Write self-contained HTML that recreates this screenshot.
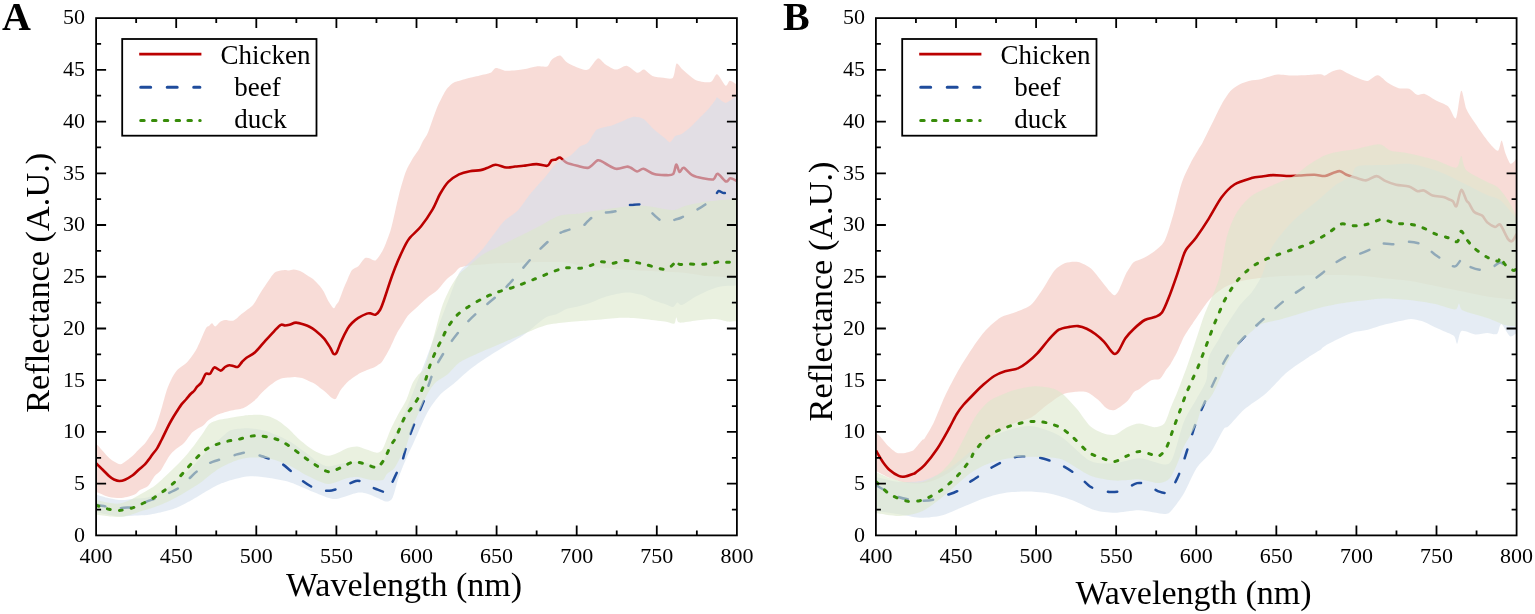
<!DOCTYPE html>
<html><head><meta charset="utf-8"><title>Reflectance spectra</title><style>html,body{margin:0;padding:0;background:#fff}svg{display:block}</style></head><body>
<svg width="1535" height="614" viewBox="0 0 1535 614" font-family="&quot;Liberation Serif&quot;, &quot;Times New Roman&quot;, serif">
<rect width="1535" height="614" fill="#fff"/>
<defs><clipPath id="clA"><rect x="96.1" y="18.1" width="640.8" height="517.3"/></clipPath><clipPath id="clB"><rect x="875.9" y="18.1" width="640.7" height="517.3"/></clipPath></defs><path d="M96.0 444.6C96.3 444.8 96.8 444.3 98.4 446.0C100.0 447.7 106.1 454.9 108.2 457.0C110.3 459.1 112.4 460.5 114.0 461.5C115.6 462.5 118.8 464.4 120.4 464.3C122.0 464.2 124.4 462.1 126.0 461.0C127.6 459.9 131.1 457.3 132.7 455.8C134.3 454.3 136.7 451.6 138.3 450.0C139.9 448.4 143.3 445.4 144.9 443.5C146.5 441.6 148.7 437.9 150.0 436.0C151.3 434.1 153.6 431.0 154.7 428.9C155.8 426.8 157.0 422.9 158.0 420.0C159.0 417.1 160.8 410.9 162.0 406.9C163.2 402.9 165.6 393.7 166.9 389.8C168.2 385.9 170.6 380.7 172.0 378.0C173.4 375.3 175.8 371.5 177.7 369.5C179.6 367.5 184.4 364.8 186.3 363.0C188.2 361.2 190.6 358.0 192.0 356.0C193.4 354.0 195.3 351.6 197.1 348.0C198.9 344.4 204.1 331.6 205.7 328.7C207.3 325.8 208.1 326.7 209.0 326.0C209.9 325.3 211.3 323.2 212.1 323.3C212.9 323.4 214.2 326.7 215.3 326.5C216.4 326.3 218.7 322.9 220.0 322.0C221.3 321.1 223.2 320.2 225.0 320.0C226.8 319.8 231.3 321.4 233.6 320.5C235.9 319.6 239.6 315.7 242.2 313.6C244.8 311.5 250.9 307.2 253.0 305.0C255.1 302.8 256.6 299.3 258.0 297.0C259.4 294.7 262.2 290.1 263.7 287.8C265.2 285.5 267.6 282.0 269.0 280.0C270.4 278.0 272.9 274.1 274.5 272.8C276.1 271.5 279.5 271.0 280.9 270.6C282.3 270.2 284.1 270.0 285.2 270.0C286.3 270.0 287.9 270.6 289.0 270.5C290.1 270.4 292.3 269.4 293.8 269.5C295.3 269.6 298.3 270.3 300.0 271.0C301.7 271.7 305.0 273.8 306.7 274.9C308.4 276.0 311.3 277.6 313.0 279.0C314.7 280.4 318.1 284.0 319.6 285.7C321.1 287.4 322.9 290.0 324.0 292.0C325.1 294.0 326.9 298.5 328.2 300.7C329.5 302.9 332.6 307.6 333.6 308.2C334.6 308.8 335.3 306.0 336.0 305.0C336.7 304.0 338.1 302.7 339.0 300.7C339.9 298.7 341.9 292.9 343.0 290.0C344.1 287.1 346.4 281.9 347.6 279.2C348.8 276.5 350.6 271.7 352.0 270.0C353.4 268.3 356.6 267.9 358.3 266.3C360.0 264.7 363.2 259.3 364.8 258.3C366.4 257.3 368.6 258.2 370.0 258.5C371.4 258.8 373.9 261.3 375.5 260.4C377.1 259.5 380.6 254.1 382.0 251.8C383.4 249.5 384.9 245.9 386.0 243.0C387.1 240.1 389.4 234.4 390.6 230.3C391.8 226.2 393.9 216.9 395.0 212.0C396.1 207.1 397.8 199.1 399.2 193.8C400.6 188.5 403.9 176.9 405.6 172.3C407.3 167.7 410.4 162.4 412.1 159.4C413.8 156.4 417.0 152.5 418.5 150.0C420.0 147.5 421.7 143.4 423.0 141.0C424.3 138.6 426.4 136.4 428.2 132.0C430.0 127.6 434.5 113.8 436.8 108.3C439.1 102.8 443.6 94.1 445.4 91.1C447.2 88.1 448.9 86.6 450.0 85.5C451.1 84.4 452.0 83.3 454.0 82.5C456.0 81.7 461.3 80.2 464.7 79.3C468.1 78.4 476.4 76.5 479.8 75.6C483.2 74.7 488.4 73.8 490.5 72.8C492.6 71.8 493.8 68.2 495.9 67.9C498.0 67.6 502.6 70.5 506.3 70.7C510.0 70.9 519.5 69.8 523.5 69.2C527.5 68.6 533.2 66.8 536.4 66.4C539.6 66.0 545.2 67.3 547.2 66.4C549.2 65.5 549.8 61.3 551.5 59.9C553.2 58.5 558.0 55.3 560.0 55.6C562.0 55.9 564.2 60.5 566.5 62.1C568.8 63.7 574.4 66.5 577.3 67.5C580.2 68.5 585.3 70.8 588.0 69.6C590.7 68.4 595.4 59.1 597.7 58.4C600.0 57.7 602.8 62.7 605.2 64.2C607.6 65.7 613.1 69.4 616.0 69.6C618.9 69.8 623.8 65.3 626.7 65.7C629.6 66.1 635.2 72.3 637.5 72.8C639.8 73.3 641.9 69.2 643.9 69.6C645.9 70.0 649.9 74.9 652.5 76.0C655.1 77.1 660.6 77.6 663.3 77.8C666.0 78.0 671.1 79.7 672.9 77.8C674.7 75.9 675.3 64.7 676.6 63.6C677.9 62.5 680.1 67.4 682.6 69.6C685.1 71.8 691.8 78.2 695.5 79.9C699.2 81.6 707.7 82.8 710.6 82.1C713.5 81.4 715.0 73.8 717.0 74.3C719.0 74.8 723.9 84.8 725.6 85.7C727.3 86.6 728.4 80.9 729.9 80.8C731.4 80.7 736.0 84.2 736.9 84.7 L736.9 277.0C735.7 277.0 732.1 277.2 728.1 277.1C724.1 277.0 712.6 276.7 707.0 276.1C701.4 275.5 691.4 273.4 685.8 272.9C680.2 272.4 670.6 272.3 665.0 272.0C659.4 271.7 649.2 271.1 643.5 270.8C637.8 270.5 627.6 269.9 622.0 269.5C616.4 269.1 606.8 268.1 601.2 267.6C595.6 267.1 584.2 266.1 580.0 265.5C575.8 264.9 573.1 263.5 570.0 263.0C566.9 262.5 560.9 262.1 557.0 262.0C553.1 261.9 545.2 261.9 541.0 262.0C536.8 262.1 529.5 262.3 525.2 262.4C520.9 262.5 513.2 262.9 509.0 263.0C504.8 263.1 497.0 263.3 493.5 263.5C490.0 263.7 486.0 264.2 482.9 264.5C479.8 264.8 473.1 265.1 470.0 265.5C466.9 265.9 461.6 266.7 459.6 267.7C457.6 268.7 456.5 271.2 454.7 272.8C452.9 274.4 448.3 277.7 446.0 280.0C443.7 282.3 440.0 287.6 437.5 290.0C435.0 292.4 429.7 295.7 427.0 298.0C424.3 300.3 419.6 304.8 417.0 307.2C414.4 309.6 409.8 313.4 407.8 315.8C405.8 318.2 403.4 322.7 402.0 325.0C400.6 327.3 398.6 329.9 397.0 333.0C395.4 336.1 391.9 344.2 390.0 348.0C388.1 351.8 384.0 359.0 382.4 361.3C380.8 363.6 379.2 364.1 378.0 365.0C376.8 365.9 374.8 367.1 373.3 367.8C371.8 368.5 368.7 369.3 367.0 370.0C365.3 370.7 362.0 372.1 360.3 373.0C358.6 373.9 355.7 375.8 354.0 377.0C352.3 378.2 349.1 380.5 347.3 382.2C345.5 383.9 341.9 388.3 340.7 390.0C339.5 391.7 338.7 393.8 338.0 395.0C337.3 396.2 336.4 398.7 335.5 399.1C334.6 399.5 332.9 398.7 331.6 397.8C330.3 396.9 327.4 393.7 326.0 392.5C324.6 391.3 322.7 389.8 321.2 388.7C319.7 387.6 316.7 385.1 315.0 384.0C313.3 382.9 309.9 381.6 308.2 380.8C306.5 380.0 303.7 378.5 302.0 378.0C300.3 377.5 296.8 377.0 295.1 376.9C293.4 376.8 291.2 377.3 289.5 377.5C287.8 377.7 283.9 377.7 282.1 378.2C280.3 378.7 277.7 379.9 276.0 381.0C274.3 382.1 271.0 384.6 269.1 386.1C267.2 387.6 263.7 390.8 262.0 392.5C260.3 394.2 257.7 397.6 256.1 399.1C254.5 400.6 251.7 402.8 250.0 404.0C248.3 405.2 245.7 407.3 243.0 408.2C240.3 409.1 233.6 409.8 230.0 410.8C226.4 411.8 218.9 414.1 216.0 415.4C213.1 416.7 210.1 419.0 208.4 420.3C206.7 421.6 205.6 423.6 203.5 425.2C201.4 426.8 195.3 429.6 192.7 432.0C190.1 434.4 186.2 440.7 184.0 443.0C181.8 445.3 178.0 447.3 176.0 449.0C174.0 450.7 171.3 453.2 169.3 456.0C167.3 458.8 163.0 467.3 161.1 470.0C159.2 472.7 156.4 473.9 154.7 476.0C153.0 478.1 150.1 484.1 148.1 486.0C146.1 487.9 141.7 488.9 140.0 490.0C138.3 491.1 136.8 493.4 135.1 494.3C133.4 495.2 129.1 496.5 127.0 497.0C124.9 497.5 121.8 498.0 119.4 498.0C117.0 498.0 112.1 497.7 109.0 496.9C105.9 496.1 97.7 492.4 96.0 491.7 Z" fill="rgb(243,197,188)" fill-opacity="0.6" stroke="none" clip-path="url(#clA)"/>
<path d="M96.0 463.1C97.0 464.1 100.5 467.6 102.5 469.5C104.5 471.4 107.3 474.5 109.0 476.0C110.7 477.5 112.4 478.8 114.0 479.5C115.6 480.2 117.8 481.0 119.4 481.0C121.1 481.0 123.0 480.6 125.0 479.7C127.0 478.8 130.6 476.8 132.7 475.3C134.8 473.8 137.2 471.1 139.0 469.5C140.8 467.9 143.5 465.7 144.9 464.3C146.3 462.9 147.0 461.8 148.1 460.4C149.2 459.0 150.7 456.8 152.0 455.0C153.3 453.2 155.7 450.6 157.1 448.4C158.5 446.1 160.0 442.9 161.5 440.0C163.0 437.1 165.5 431.8 166.9 428.9C168.3 426.0 169.5 423.6 171.0 421.0C172.5 418.4 175.0 414.3 176.6 411.8C178.2 409.3 180.1 406.2 181.5 404.4C182.9 402.6 184.6 401.1 186.0 399.5C187.4 397.9 189.4 395.3 190.6 394.0C191.8 392.7 193.0 392.1 194.0 391.0C195.0 389.9 196.0 388.0 197.1 386.7C198.2 385.4 200.1 384.3 201.4 382.4C202.7 380.5 204.4 375.1 205.7 373.8C207.0 372.5 208.7 374.8 210.0 373.8C211.3 372.8 212.7 367.9 214.3 367.4C215.9 366.9 219.1 370.7 220.7 370.6C222.3 370.5 223.7 367.8 225.0 367.0C226.3 366.2 228.0 365.3 229.3 365.2C230.6 365.1 232.2 365.7 233.5 366.0C234.8 366.3 236.6 367.5 237.9 366.9C239.2 366.3 240.7 363.4 242.0 362.0C243.3 360.6 244.5 359.2 246.5 357.7C248.5 356.2 252.5 354.6 255.1 352.3C257.7 350.0 260.8 345.8 263.7 342.6C266.6 339.4 271.9 333.5 274.5 330.8C277.1 328.1 279.3 325.6 280.9 324.8C282.5 324.0 283.7 325.5 285.0 325.5C286.3 325.5 287.9 325.2 289.5 324.8C291.1 324.4 293.7 322.6 296.0 322.6C298.3 322.6 302.5 324.1 304.6 324.8C306.7 325.5 308.4 326.2 310.0 327.0C311.6 327.8 313.2 328.7 315.3 330.4C317.4 332.1 321.6 335.7 323.9 338.3C326.2 340.9 328.9 345.6 330.4 348.0C331.9 350.4 332.6 353.4 333.6 354.0C334.6 354.6 335.7 354.2 336.8 352.3C337.9 350.4 339.5 345.1 341.1 341.6C342.7 338.1 346.0 331.5 347.6 328.7C349.2 325.9 350.4 324.6 352.0 323.0C353.6 321.4 356.1 319.3 358.3 317.9C360.5 316.5 365.0 314.3 366.9 313.6C368.8 312.9 369.7 313.3 371.0 313.5C372.3 313.7 374.1 315.2 375.5 314.7C376.9 314.2 378.7 312.2 380.0 310.0C381.3 307.8 382.6 304.1 384.0 300.0C385.4 295.9 388.0 287.8 389.6 283.0C391.2 278.2 393.2 272.6 395.0 268.0C396.8 263.4 399.8 256.4 401.9 252.0C404.0 247.6 406.2 242.5 409.1 238.7C412.0 234.9 417.4 230.9 420.9 226.5C424.4 222.1 429.7 214.2 432.6 209.3C435.5 204.4 437.6 198.1 440.0 194.0C442.4 189.9 445.4 184.8 448.3 181.9C451.2 179.0 455.8 176.0 459.0 174.4C462.2 172.8 466.6 171.8 469.8 171.2C473.0 170.6 477.9 170.6 480.5 170.1C483.1 169.6 484.7 168.8 487.0 168.0C489.3 167.2 492.7 164.8 495.6 164.7C498.5 164.6 503.4 167.2 506.3 167.5C509.2 167.8 512.4 166.8 515.0 166.5C517.6 166.2 520.3 166.2 523.5 165.8C526.7 165.4 532.8 164.1 536.4 164.1C540.0 164.1 544.9 166.4 547.2 165.8C549.5 165.2 550.2 161.3 551.5 160.4C552.8 159.5 554.7 159.9 556.0 159.5C557.3 159.1 558.4 157.1 560.0 157.6C561.6 158.1 563.9 161.4 566.5 162.6C569.1 163.8 574.0 165.0 577.3 165.8C580.6 166.6 585.4 168.5 588.5 167.7C591.6 166.9 595.5 160.9 598.0 160.3C600.5 159.7 602.7 162.2 605.4 163.5C608.1 164.8 612.8 168.3 616.0 168.8C619.2 169.3 624.4 166.9 626.6 166.7C628.8 166.5 629.2 167.0 630.8 167.7C632.4 168.4 635.2 171.3 637.1 171.5C639.0 171.7 641.0 168.4 643.5 168.8C646.0 169.2 650.9 173.2 654.1 174.1C657.3 175.0 661.9 175.1 664.7 175.1C667.6 175.1 671.4 175.7 673.1 174.1C674.8 172.5 675.3 164.9 676.3 164.6C677.3 164.3 678.4 171.5 679.5 172.0C680.6 172.5 681.8 167.2 683.7 167.7C685.6 168.2 689.3 173.5 692.2 175.1C695.1 176.7 699.6 177.7 702.8 178.3C706.0 178.9 711.1 180.1 713.3 179.4C715.5 178.7 715.7 173.4 717.6 173.7C719.5 174.0 724.1 180.8 726.0 181.5C727.9 182.2 728.7 178.4 730.3 178.3C731.9 178.2 735.9 180.6 736.9 181.0" fill="none" stroke="#bb0000" stroke-width="2.6" stroke-linejoin="round" clip-path="url(#clA)"/>
<path d="M96.0 494.5C97.7 495.0 105.5 497.5 109.0 498.2C112.5 498.9 118.5 500.1 122.0 500.1C125.5 500.1 131.6 498.9 135.0 498.5C138.4 498.1 143.7 498.3 147.3 497.4C150.9 496.5 158.1 493.6 162.0 491.5C165.9 489.4 172.7 484.4 176.6 481.3C180.5 478.2 187.4 472.0 191.3 468.1C195.2 464.2 202.1 455.9 205.9 452.0C209.7 448.1 216.8 441.7 220.0 438.8C223.2 435.9 226.9 431.8 230.0 430.4C233.1 429.0 239.5 428.6 243.0 428.4C246.5 428.2 252.6 428.5 256.1 429.0C259.6 429.5 265.1 430.6 269.5 432.2C273.9 433.8 283.9 438.0 289.1 441.0C294.3 444.0 304.7 451.8 308.6 454.7C312.5 457.6 315.8 460.9 318.4 462.5C321.0 464.1 325.2 466.2 328.1 466.4C331.0 466.6 336.1 464.7 340.0 464.0C343.9 463.3 353.8 461.6 357.4 461.5C361.0 461.4 364.4 462.4 367.0 463.0C369.6 463.6 374.9 466.1 377.0 466.0C379.1 465.9 381.3 464.8 383.0 462.0C384.7 459.2 388.0 449.5 390.0 445.0C392.0 440.5 395.3 434.0 398.0 428.0C400.7 422.0 406.4 408.8 410.0 400.0C413.6 391.2 421.0 372.4 425.0 362.0C429.0 351.6 436.7 330.8 440.0 322.0C443.3 313.2 447.4 302.7 450.0 296.0C452.6 289.3 456.9 276.5 459.6 272.0C462.3 267.5 466.9 265.1 470.0 262.0C473.1 258.9 479.7 252.4 482.9 248.7C486.1 245.0 491.2 237.7 494.0 234.0C496.8 230.3 500.8 224.4 504.0 221.2C507.2 218.0 514.7 213.7 518.3 210.0C521.9 206.3 527.3 197.6 531.0 193.1C534.7 188.6 542.4 180.1 545.8 176.2C549.2 172.3 553.0 166.3 556.4 163.5C559.8 160.7 568.1 157.3 571.2 155.0C574.3 152.7 577.7 148.3 580.0 146.6C582.3 144.9 585.9 144.6 588.2 142.3C590.5 140.0 593.8 131.9 596.9 129.6C600.0 127.3 608.3 126.5 611.7 125.4C615.1 124.3 619.5 122.3 622.3 121.2C625.1 120.1 630.1 117.2 632.9 116.9C635.7 116.6 640.7 117.3 643.5 119.0C646.3 120.7 651.3 127.1 654.1 129.6C656.9 132.1 662.6 136.4 664.7 138.1C666.8 139.8 668.6 142.6 670.0 142.3C671.4 142.0 673.7 137.1 675.2 136.0C676.7 134.9 679.6 135.0 681.6 133.9C683.6 132.8 687.7 129.5 690.0 127.5C692.3 125.5 696.2 121.3 698.5 119.0C700.8 116.7 704.7 113.1 707.0 110.6C709.3 108.1 714.1 101.7 715.4 100.0C716.7 98.3 715.6 97.2 717.0 97.6C718.4 98.0 723.3 102.9 725.6 102.9C727.9 102.9 732.7 98.4 734.2 97.6C735.7 96.8 736.5 97.1 736.9 97.0 L736.9 285.6C734.3 285.8 722.7 285.8 717.3 287.2C711.9 288.6 701.1 293.8 696.4 296.2C691.7 298.6 684.5 304.2 682.0 305.0C679.5 305.8 678.6 302.2 677.4 302.5C676.2 302.8 674.7 306.8 673.0 307.0C671.3 307.2 667.4 304.9 664.7 304.0C662.0 303.1 655.3 301.1 652.5 300.0C649.7 298.9 646.8 296.5 643.5 295.5C640.2 294.5 632.2 292.6 628.0 292.5C623.8 292.4 615.6 294.2 612.0 295.0C608.4 295.8 604.1 297.2 601.2 298.3C598.3 299.4 592.8 302.0 590.0 303.0C587.2 304.0 583.1 305.2 580.0 306.0C576.9 306.8 569.6 307.9 566.5 309.0C563.4 310.1 559.9 312.8 557.0 314.0C554.1 315.2 549.5 315.2 545.0 318.0C540.5 320.8 529.2 331.1 523.5 335.1C517.8 339.1 507.0 344.9 502.0 348.0C497.0 351.1 490.3 355.1 486.0 358.0C481.7 360.9 474.1 366.1 469.8 369.5C465.5 372.9 457.9 380.2 454.0 383.5C450.1 386.8 444.1 390.3 440.5 394.3C436.9 398.3 430.6 406.7 427.0 413.2C423.4 419.7 416.3 436.9 413.5 443.0C410.7 449.1 408.3 453.9 406.3 458.6C404.3 463.3 400.3 472.9 398.5 478.1C396.7 483.3 394.2 494.6 392.6 497.7C391.0 500.8 388.8 501.6 386.7 501.6C384.6 501.6 379.6 498.7 377.0 497.7C374.4 496.7 369.8 494.5 367.2 493.8C364.6 493.1 361.3 492.1 357.4 492.8C353.5 493.5 341.8 498.0 337.9 498.7C334.0 499.4 332.0 498.9 328.1 497.7C324.2 496.5 313.8 492.0 308.6 489.9C303.4 487.8 294.3 483.6 289.1 482.0C283.9 480.4 274.7 478.9 269.5 478.1C264.3 477.3 254.6 476.1 250.0 476.2C245.4 476.3 239.0 478.0 235.0 479.0C231.0 480.0 223.9 482.3 220.0 484.0C216.1 485.7 209.7 489.3 205.9 491.5C202.1 493.7 195.2 498.1 191.3 500.3C187.4 502.5 180.5 506.1 176.6 507.7C172.7 509.3 165.9 511.0 162.0 512.0C158.1 513.0 150.9 514.5 147.3 515.0C143.7 515.5 138.4 515.3 135.0 515.5C131.6 515.7 125.3 516.6 122.0 516.5C118.7 516.4 113.5 515.6 110.0 515.0C106.5 514.4 97.9 512.4 96.0 512.0 Z" fill="rgb(212,223,237)" fill-opacity="0.6" stroke="none" clip-path="url(#clA)"/>
<path d="M96.0 504.7C97.2 504.9 101.7 505.6 103.8 506.0C105.9 506.4 107.9 507.1 110.0 507.5C112.1 507.9 116.0 508.9 117.8 509.0C119.6 509.1 119.8 508.2 122.0 507.9C124.2 507.6 129.8 507.6 132.5 507.3C135.2 507.0 137.8 506.5 139.7 505.7C141.6 504.9 143.3 503.1 145.5 502.1C147.7 501.1 152.2 499.7 154.6 498.8C157.0 497.9 159.4 496.8 161.5 495.9C163.6 495.0 166.4 494.1 168.9 493.0C171.4 491.9 175.8 489.9 178.0 488.4C180.2 486.9 181.5 484.4 183.3 482.8C185.1 481.2 187.9 479.6 189.8 478.0C191.7 476.4 193.7 474.0 196.0 472.1C198.3 470.2 202.2 467.0 205.1 465.3C207.9 463.6 211.7 462.1 215.0 461.0C218.3 459.9 224.0 458.6 227.0 457.7C230.0 456.8 232.4 455.8 235.0 455.0C237.6 454.2 241.8 452.8 244.4 452.6C247.0 452.5 249.7 453.6 252.0 454.0C254.3 454.4 257.0 454.8 259.7 455.5C262.4 456.2 266.7 457.8 270.0 459.0C273.3 460.2 278.2 461.6 281.5 463.5C284.8 465.4 288.7 469.3 292.0 472.0C295.3 474.7 300.1 479.1 303.4 481.5C306.7 483.9 311.5 486.9 314.3 488.3C317.1 489.7 319.4 490.2 322.0 490.5C324.6 490.8 328.8 490.9 331.8 490.4C334.8 489.9 338.4 488.4 342.0 487.0C345.6 485.6 352.8 481.8 355.8 481.0C358.8 480.2 360.0 481.2 362.0 482.0C364.0 482.8 366.8 484.9 368.9 486.0C371.0 487.1 373.7 488.1 376.0 489.0C378.3 489.9 382.3 491.7 384.2 491.9C386.1 492.1 387.3 491.7 388.5 490.4C389.7 489.1 390.7 485.8 392.0 483.0C393.3 480.2 395.7 475.0 397.2 471.9C398.7 468.8 400.4 466.7 402.0 462.0C403.6 457.3 406.0 446.9 408.1 440.5C410.2 434.1 413.8 425.1 416.2 419.0C418.6 412.9 422.4 404.9 424.3 399.7C426.2 394.4 427.3 388.8 429.0 384.0C430.7 379.2 432.5 373.1 435.4 367.4C438.3 361.7 444.1 352.0 448.3 345.9C452.5 339.8 458.7 331.7 463.3 326.5C467.9 321.3 473.5 315.9 479.0 311.0C484.5 306.1 495.2 297.7 499.8 293.5C504.4 289.3 507.0 286.3 510.0 283.0C513.0 279.7 516.1 275.9 520.0 271.5C523.9 267.1 530.8 258.7 535.8 253.5C540.8 248.3 549.2 240.2 553.6 236.8C558.0 233.4 561.8 232.3 565.0 231.0C568.2 229.7 572.5 228.9 575.1 228.2C577.7 227.5 580.5 227.6 582.4 226.5C584.3 225.4 586.1 222.7 588.0 221.0C589.9 219.3 592.8 216.5 594.8 215.3C596.8 214.1 598.0 213.8 601.2 213.2C604.4 212.6 612.5 212.2 616.0 211.1C619.5 210.0 622.0 206.7 624.4 205.8C626.8 204.9 629.7 205.2 632.0 205.0C634.3 204.8 637.6 204.2 639.6 204.5C641.6 204.8 643.0 205.0 645.6 206.9C648.2 208.8 653.9 215.0 656.8 217.4C659.7 219.8 661.9 222.5 664.7 222.8C667.5 223.1 672.7 220.4 675.2 219.6C677.7 218.8 678.4 218.9 681.6 217.5C684.8 216.1 692.9 211.9 696.4 210.0C699.9 208.1 702.0 207.0 704.9 204.8C707.8 202.6 713.3 197.3 715.4 195.2C717.5 193.1 717.3 191.3 718.6 191.0C719.9 190.7 722.2 193.0 723.9 193.1C725.6 193.2 728.0 191.9 730.0 191.5C732.0 191.1 735.9 190.7 736.9 190.5" fill="none" stroke="#1f4c9c" stroke-width="2.5" stroke-linecap="round" stroke-dasharray="9.5 16.1" stroke-linejoin="round" clip-path="url(#clA)"/>
<path d="M96.0 500.0C97.9 500.4 106.8 502.5 110.0 503.0C113.2 503.5 117.3 503.9 120.0 503.5C122.7 503.1 127.3 501.2 130.0 500.0C132.7 498.8 136.7 496.4 140.0 494.5C143.3 492.6 150.8 488.6 154.7 485.7C158.6 482.8 165.4 476.2 169.3 472.5C173.2 468.8 180.5 461.7 184.0 457.8C187.5 453.9 193.2 446.5 195.7 443.2C198.2 439.9 201.2 435.6 203.0 433.0C204.8 430.4 207.5 425.5 209.5 423.8C211.5 422.1 215.7 420.7 218.0 420.0C220.3 419.3 224.7 418.8 227.0 418.4C229.3 418.0 232.1 417.4 235.0 417.0C237.9 416.6 245.5 415.4 248.8 415.1C252.1 414.8 257.0 414.5 259.8 414.7C262.6 414.9 266.9 415.7 269.5 416.6C272.1 417.5 276.7 419.8 279.3 421.5C281.9 423.2 286.5 427.0 289.1 429.3C291.7 431.6 296.2 436.8 298.8 439.1C301.4 441.4 306.0 445.1 308.6 446.9C311.2 448.7 315.8 451.5 318.4 452.7C321.0 453.9 325.5 455.7 328.1 455.7C330.7 455.7 335.3 453.7 337.9 452.7C340.5 451.7 345.1 448.7 347.7 447.9C350.3 447.1 354.8 446.2 357.4 446.5C360.0 446.8 364.6 449.0 367.2 449.8C369.8 450.6 374.9 452.8 377.0 452.7C379.1 452.6 381.0 451.9 382.8 448.8C384.6 445.7 388.6 434.0 390.7 429.3C392.8 424.6 396.4 417.6 398.5 413.7C400.6 409.8 404.4 404.0 406.3 400.0C408.2 396.0 410.8 386.8 412.4 383.5C414.0 380.2 416.4 377.1 418.0 375.0C419.6 372.9 422.7 372.2 424.7 367.4C426.7 362.6 430.8 347.2 433.1 339.1C435.4 331.0 439.6 313.9 441.9 307.0C444.2 300.1 448.4 291.3 450.7 287.0C453.0 282.7 456.5 277.3 458.9 274.5C461.3 271.7 465.5 268.7 468.7 266.0C471.9 263.3 479.0 257.0 482.9 254.5C486.8 252.0 493.8 249.1 498.0 247.0C502.2 244.9 510.4 240.6 514.7 238.5C519.0 236.4 526.4 232.8 530.0 231.0C533.6 229.2 538.0 226.9 541.6 225.0C545.2 223.1 553.6 217.9 557.0 216.5C560.4 215.1 563.9 214.9 567.0 214.5C570.1 214.1 576.9 213.9 580.0 213.5C583.1 213.1 587.2 212.0 590.0 211.5C592.8 211.0 596.9 210.6 601.2 210.0C605.5 209.4 616.7 207.5 622.3 206.9C627.9 206.3 637.8 205.5 643.5 205.8C649.2 206.1 660.5 208.4 664.7 209.0C668.9 209.6 672.4 210.4 675.2 210.0C678.0 209.6 681.6 206.9 685.8 205.8C690.0 204.7 701.4 202.4 707.0 201.6C712.6 200.8 724.1 199.8 728.1 199.5C732.1 199.2 735.7 199.5 736.9 199.5 L736.9 321.0C735.7 321.1 731.0 321.9 728.1 321.6C725.2 321.3 719.6 319.1 715.4 319.0C711.2 318.9 701.2 320.0 696.4 320.5C691.6 321.0 682.2 323.0 679.5 322.6C676.8 322.2 677.0 317.3 676.3 317.4C675.6 317.5 675.7 323.1 674.2 323.7C672.7 324.3 668.8 322.2 664.7 321.6C660.6 321.0 649.2 319.5 643.5 319.0C637.8 318.5 627.9 317.7 622.3 317.8C616.7 317.9 605.8 319.1 601.2 319.5C596.6 319.9 592.6 320.1 588.0 320.5C583.4 320.9 572.2 321.5 566.5 322.2C560.8 322.9 551.5 323.5 545.0 325.4C538.5 327.3 524.3 333.6 518.0 336.2C511.7 338.8 503.0 342.7 497.5 345.0C492.0 347.3 482.1 351.4 477.0 353.7C471.9 356.0 463.3 359.8 459.4 362.5C455.5 365.2 450.8 371.6 447.7 374.2C444.6 376.8 438.6 379.5 436.0 382.0C433.4 384.5 430.1 389.3 428.0 393.0C425.9 396.7 422.1 405.3 420.0 410.0C417.9 414.7 414.0 422.7 412.0 428.0C410.0 433.3 406.6 446.0 405.0 450.0C403.4 454.0 401.4 455.6 400.0 458.0C398.6 460.4 396.3 465.8 394.5 468.0C392.7 470.2 388.3 472.6 386.7 474.2C385.1 475.8 384.9 479.3 382.8 480.1C380.7 480.9 374.2 480.5 371.1 480.1C368.0 479.7 362.5 477.5 359.4 477.2C356.3 476.9 351.9 477.2 347.7 478.1C343.5 479.0 333.3 484.3 328.1 484.0C322.9 483.7 313.8 478.7 308.6 476.2C303.4 473.7 294.3 467.7 289.1 465.4C283.9 463.1 274.7 459.6 269.5 458.6C264.3 457.6 254.6 457.3 250.0 457.6C245.4 457.9 239.0 459.6 235.0 461.0C231.0 462.4 223.3 466.1 220.0 468.0C216.7 469.9 212.9 472.9 210.0 475.0C207.1 477.1 202.1 481.6 198.6 484.0C195.1 486.4 187.9 490.7 184.0 493.0C180.1 495.3 173.2 499.1 169.3 501.0C165.4 502.9 158.6 505.6 154.7 507.0C150.8 508.4 143.3 510.4 140.0 511.5C136.7 512.6 132.7 514.3 130.0 515.0C127.3 515.7 122.7 516.8 120.0 517.0C117.3 517.2 113.2 516.8 110.0 516.5C106.8 516.2 97.9 514.8 96.0 514.5 Z" fill="rgb(220,231,203)" fill-opacity="0.6" stroke="none" clip-path="url(#clA)"/>
<path d="M96.0 505.3C97.0 505.6 101.0 506.9 103.0 507.5C105.0 508.1 106.8 508.8 109.0 509.2C111.2 509.6 115.7 510.4 117.8 510.5C119.9 510.6 120.8 510.4 123.0 510.0C125.2 509.6 129.7 508.8 132.5 507.9C135.3 507.0 138.5 505.5 141.6 504.0C144.7 502.5 150.0 500.1 153.3 498.2C156.6 496.2 160.6 493.3 163.7 491.0C166.8 488.7 171.0 485.5 174.1 482.6C177.2 479.7 181.2 475.1 184.5 471.5C187.8 467.9 192.9 461.7 196.0 458.5C199.1 455.3 202.2 452.0 205.1 450.0C207.9 448.0 211.7 446.3 215.0 445.0C218.3 443.7 223.6 442.1 227.0 441.3C230.4 440.5 234.6 440.2 237.9 439.5C241.2 438.8 245.5 437.1 248.8 436.5C252.1 435.9 256.3 435.6 259.7 435.8C263.1 436.0 268.4 437.1 271.7 437.9C275.0 438.7 278.5 439.8 281.5 441.3C284.5 442.8 288.7 445.7 292.0 448.0C295.3 450.3 300.1 454.2 303.4 456.6C306.7 459.0 310.7 461.9 314.0 464.0C317.3 466.1 322.5 469.7 325.2 470.8C327.9 471.9 329.3 472.0 331.8 471.4C334.3 470.8 338.7 468.4 342.0 467.0C345.3 465.6 350.2 462.4 353.6 462.0C357.1 461.6 361.7 463.2 365.0 464.0C368.3 464.8 373.2 467.3 375.4 467.5C377.6 467.7 378.4 466.7 379.8 465.3C381.2 463.9 383.4 460.9 385.0 458.0C386.6 455.1 389.1 448.7 390.7 445.7C392.3 442.7 394.1 441.0 395.5 438.2C396.9 435.4 398.8 430.4 400.2 427.2C401.6 424.0 403.4 419.5 405.1 416.6C406.8 413.7 409.6 410.5 411.6 407.7C413.6 404.9 416.3 401.5 418.2 397.9C420.1 394.3 422.5 388.9 424.3 384.0C426.1 379.1 428.3 370.0 430.1 365.0C431.9 360.0 434.2 354.7 436.0 350.8C437.8 346.9 440.1 342.6 441.9 339.1C443.7 335.6 445.5 330.9 447.7 327.4C449.9 323.9 453.4 318.8 456.5 315.7C459.6 312.6 464.2 309.5 468.2 306.9C472.2 304.3 478.5 300.6 482.9 298.4C487.3 296.2 492.9 293.8 497.7 292.1C502.5 290.4 509.2 288.7 514.7 286.8C520.2 284.9 528.1 281.6 534.3 279.2C540.5 276.8 550.8 272.3 555.8 270.6C560.8 268.9 564.0 268.0 567.6 267.7C571.2 267.4 576.5 268.6 580.0 268.3C583.5 268.0 587.4 266.5 590.6 265.5C593.8 264.5 598.0 262.0 601.2 261.7C604.4 261.4 608.2 263.6 611.7 263.4C615.2 263.2 620.9 260.8 624.4 260.6C627.9 260.4 631.8 261.7 635.0 262.3C638.2 262.9 642.1 263.5 645.6 264.4C649.1 265.3 655.1 267.6 658.3 268.3C661.5 269.0 664.6 269.7 666.8 269.1C669.0 268.5 671.7 265.7 673.1 264.4C674.5 263.1 675.3 260.6 676.3 260.6C677.3 260.6 677.7 263.9 679.5 264.4C681.3 264.9 684.8 264.0 688.0 264.0C691.2 264.0 697.1 264.5 700.6 264.4C704.1 264.3 708.3 263.8 711.2 263.4C714.1 263.0 717.2 261.9 719.7 261.7C722.2 261.5 725.5 262.5 728.1 262.3C730.7 262.1 735.6 260.9 736.9 260.6" fill="none" stroke="#388c0a" stroke-width="3" stroke-linecap="round" stroke-dasharray="3 9" stroke-linejoin="round" clip-path="url(#clA)"/>
<path d="M136.15 535.40V530.40M136.15 18.10V23.10M176.20 535.40V525.40M176.20 18.10V28.10M216.25 535.40V530.40M216.25 18.10V23.10M256.30 535.40V525.40M256.30 18.10V28.10M296.35 535.40V530.40M296.35 18.10V23.10M336.40 535.40V525.40M336.40 18.10V28.10M376.45 535.40V530.40M376.45 18.10V23.10M416.50 535.40V525.40M416.50 18.10V28.10M456.55 535.40V530.40M456.55 18.10V23.10M496.60 535.40V525.40M496.60 18.10V28.10M536.65 535.40V530.40M536.65 18.10V23.10M576.70 535.40V525.40M576.70 18.10V28.10M616.75 535.40V530.40M616.75 18.10V23.10M656.80 535.40V525.40M656.80 18.10V28.10M696.85 535.40V530.40M696.85 18.10V23.10M96.10 509.53H101.10M736.90 509.53H731.90M96.10 483.67H106.10M736.90 483.67H726.90M96.10 457.81H101.10M736.90 457.81H731.90M96.10 431.94H106.10M736.90 431.94H726.90M96.10 406.07H101.10M736.90 406.07H731.90M96.10 380.21H106.10M736.90 380.21H726.90M96.10 354.34H101.10M736.90 354.34H731.90M96.10 328.48H106.10M736.90 328.48H726.90M96.10 302.62H101.10M736.90 302.62H731.90M96.10 276.75H106.10M736.90 276.75H726.90M96.10 250.88H101.10M736.90 250.88H731.90M96.10 225.02H106.10M736.90 225.02H726.90M96.10 199.15H101.10M736.90 199.15H731.90M96.10 173.29H106.10M736.90 173.29H726.90M96.10 147.42H101.10M736.90 147.42H731.90M96.10 121.56H106.10M736.90 121.56H726.90M96.10 95.70H101.10M736.90 95.70H731.90M96.10 69.83H106.10M736.90 69.83H726.90M96.10 43.97H101.10M736.90 43.97H731.90" stroke="#000" stroke-width="1.8" fill="none"/>
<rect x="96.10" y="18.10" width="640.80" height="517.30" stroke="#000" stroke-width="1.8" fill="none"/>
<g font-size="22"><text x="85.0" y="541.70" text-anchor="end">0</text><text x="85.0" y="489.97" text-anchor="end">5</text><text x="85.0" y="438.24" text-anchor="end">10</text><text x="85.0" y="386.51" text-anchor="end">15</text><text x="85.0" y="334.78" text-anchor="end">20</text><text x="85.0" y="283.05" text-anchor="end">25</text><text x="85.0" y="231.32" text-anchor="end">30</text><text x="85.0" y="179.59" text-anchor="end">35</text><text x="85.0" y="127.86" text-anchor="end">40</text><text x="85.0" y="76.13" text-anchor="end">45</text><text x="85.0" y="24.40" text-anchor="end">50</text><text x="96.10" y="562.9" text-anchor="middle">400</text><text x="176.20" y="562.9" text-anchor="middle">450</text><text x="256.30" y="562.9" text-anchor="middle">500</text><text x="336.40" y="562.9" text-anchor="middle">550</text><text x="416.50" y="562.9" text-anchor="middle">600</text><text x="496.60" y="562.9" text-anchor="middle">650</text><text x="576.70" y="562.9" text-anchor="middle">700</text><text x="656.80" y="562.9" text-anchor="middle">750</text><text x="736.90" y="562.9" text-anchor="middle">800</text></g>
<rect x="122.2" y="39" width="194.3" height="96.7" stroke="#000" stroke-width="1.8" fill="#fff"/>
<path d="M139.2 54.2H201.4" stroke="#bb0000" stroke-width="2.8" fill="none"/>
<path d="M140.7 87.3H199.9" stroke="#1f4c9c" stroke-width="3" stroke-linecap="round" stroke-dasharray="10 16.5" fill="none"/>
<path d="M140.7 120.5H200.2" stroke="#388c0a" stroke-width="3" stroke-linecap="round" stroke-dasharray="3.5 8.3" fill="none"/>
<g font-size="27"><text x="220.5" y="63.7">Chicken</text><text x="234.3" y="96">beef</text><text x="234.3" y="128.4">duck</text></g>
<path d="M875.9 433.0C876.4 433.4 878.1 434.3 879.7 436.0C881.3 437.7 886.0 443.8 888.2 446.0C890.4 448.2 894.4 451.4 896.0 452.4C897.6 453.4 899.2 453.2 900.4 453.3C901.6 453.4 903.6 453.3 905.2 453.0C906.8 452.7 911.2 451.5 912.6 450.8C914.0 450.1 914.4 449.2 915.7 447.8C917.0 446.4 921.0 441.3 922.2 440.0C923.4 438.7 923.3 440.4 924.9 438.0C926.5 435.6 931.3 427.6 934.0 422.0C936.7 416.4 941.8 402.8 945.0 396.0C948.2 389.2 954.3 377.5 958.0 371.0C961.7 364.5 969.3 352.6 973.0 347.2C976.7 341.8 982.0 334.3 985.7 330.3C989.4 326.3 996.8 319.8 1000.5 317.5C1004.2 315.2 1009.2 314.7 1013.2 313.0C1017.2 311.3 1026.7 308.4 1030.8 305.0C1034.9 301.6 1040.5 292.4 1043.7 287.8C1046.9 283.2 1051.6 273.9 1054.5 270.6C1057.4 267.3 1062.1 264.2 1065.2 263.1C1068.3 262.0 1074.7 261.3 1078.1 262.0C1081.5 262.7 1087.8 265.9 1091.0 268.5C1094.2 271.1 1099.2 278.3 1101.8 281.4C1104.4 284.5 1108.7 290.2 1110.4 292.1C1112.1 294.0 1113.6 295.6 1114.7 295.3C1115.8 295.0 1117.6 292.7 1119.0 290.0C1120.4 287.3 1123.9 278.0 1125.4 274.9C1126.9 271.8 1129.0 268.7 1130.1 267.0C1131.2 265.3 1132.3 263.2 1134.0 262.0C1135.7 260.8 1140.4 259.7 1143.0 258.3C1145.6 256.9 1150.9 254.1 1153.8 251.8C1156.7 249.5 1161.9 246.0 1164.5 241.1C1167.1 236.2 1170.8 223.0 1173.1 215.3C1175.4 207.6 1179.4 189.9 1181.7 183.0C1184.0 176.1 1188.0 168.3 1190.3 163.7C1192.6 159.1 1197.3 151.4 1198.9 148.6C1200.5 145.8 1200.6 146.4 1202.5 142.7C1204.4 139.0 1210.6 126.4 1213.2 121.2C1215.8 116.0 1219.5 108.0 1221.8 104.0C1224.1 100.0 1228.1 93.7 1230.4 91.1C1232.7 88.5 1236.4 86.1 1239.0 84.7C1241.6 83.3 1246.9 81.5 1249.8 80.8C1252.7 80.1 1257.6 79.9 1260.5 79.3C1263.4 78.7 1269.0 76.7 1271.3 76.1C1273.6 75.5 1274.8 74.6 1277.7 74.5C1280.6 74.4 1288.8 75.5 1292.8 75.6C1296.8 75.7 1304.1 75.2 1307.8 75.0C1311.5 74.8 1318.4 74.2 1320.7 74.3C1323.0 74.4 1323.6 75.9 1325.0 75.6C1326.4 75.3 1329.5 72.6 1331.5 71.8C1333.5 71.0 1338.1 69.5 1340.1 69.6C1342.1 69.7 1344.2 71.7 1346.5 72.8C1348.8 73.9 1354.5 76.7 1357.3 77.8C1360.1 78.9 1364.7 81.2 1367.4 80.9C1370.1 80.6 1375.0 74.9 1377.8 75.2C1380.6 75.5 1385.5 81.3 1388.3 83.0C1391.1 84.7 1395.9 87.4 1398.7 88.2C1401.5 89.0 1406.7 87.9 1409.1 88.8C1411.5 89.7 1414.9 94.1 1417.0 94.8C1419.1 95.5 1422.4 93.3 1424.8 94.0C1427.2 94.7 1432.1 98.3 1435.2 100.0C1438.3 101.7 1445.4 104.1 1448.2 106.5C1451.0 108.9 1454.3 120.3 1456.0 118.2C1457.7 116.1 1459.8 92.0 1461.2 90.8C1462.6 89.6 1464.7 104.9 1466.4 109.1C1468.1 113.3 1471.5 117.9 1474.3 122.1C1477.1 126.3 1484.2 136.6 1487.3 140.4C1490.4 144.2 1495.8 150.8 1497.7 150.8C1499.6 150.8 1500.6 140.1 1501.6 140.4C1502.6 140.7 1504.3 150.3 1505.5 153.4C1506.7 156.5 1509.2 163.1 1510.7 163.8C1512.2 164.5 1515.8 159.3 1516.6 158.6 L1516.6 300.0C1515.5 299.9 1512.0 299.5 1508.1 299.0C1504.2 298.5 1493.6 297.4 1487.3 296.4C1481.0 295.4 1468.1 292.6 1461.2 291.2C1454.3 289.8 1442.2 287.4 1435.2 286.0C1428.2 284.6 1416.0 281.8 1409.0 280.8C1402.0 279.8 1389.9 278.9 1383.0 278.2C1376.1 277.5 1364.7 276.0 1357.0 275.6C1349.3 275.2 1335.0 274.8 1325.0 274.9C1315.0 275.0 1290.7 275.6 1282.0 276.0C1273.3 276.4 1265.7 277.3 1260.0 278.0C1254.3 278.7 1243.7 280.2 1239.0 281.4C1234.3 282.6 1228.9 284.7 1225.0 287.0C1221.1 289.3 1213.7 295.0 1210.0 299.0C1206.3 303.0 1200.3 312.2 1197.0 317.0C1193.7 321.8 1187.1 331.6 1185.0 335.0C1182.9 338.4 1182.3 340.4 1181.2 342.7C1180.1 345.0 1178.4 349.5 1177.0 352.3C1175.6 355.1 1172.0 361.6 1170.6 363.9C1169.2 366.2 1167.7 367.5 1166.3 369.5C1164.9 371.5 1162.0 377.3 1160.0 378.7C1158.0 380.1 1153.9 378.9 1151.2 380.3C1148.5 381.7 1141.8 387.4 1139.5 389.0C1137.2 390.6 1135.6 390.4 1134.0 392.0C1132.4 393.6 1129.8 398.9 1127.2 401.3C1124.6 403.7 1117.5 409.1 1114.8 410.0C1112.1 410.9 1108.8 409.7 1106.6 408.3C1104.4 406.9 1100.6 401.9 1098.1 399.8C1095.6 397.7 1090.4 393.5 1087.6 392.4C1084.8 391.3 1080.3 391.5 1077.0 391.8C1073.7 392.1 1066.6 392.6 1062.6 394.4C1058.6 396.2 1051.1 402.0 1047.0 405.0C1042.9 408.0 1036.0 414.8 1031.7 417.2C1027.4 419.6 1019.2 421.2 1015.0 423.0C1010.8 424.8 1003.3 429.0 1000.0 431.0C996.7 433.0 993.3 435.2 990.0 438.0C986.7 440.8 979.0 448.5 975.0 452.0C971.0 455.5 963.3 461.3 960.0 464.0C956.7 466.7 953.3 469.9 950.0 472.0C946.7 474.1 939.0 478.5 935.0 480.0C931.0 481.5 924.0 483.2 920.0 483.5C916.0 483.8 909.0 483.2 905.0 482.5C901.0 481.8 893.9 479.5 890.0 478.0C886.1 476.5 877.8 471.9 875.9 471.0 Z" fill="rgb(243,197,188)" fill-opacity="0.6" stroke="none" clip-path="url(#clB)"/>
<path d="M875.9 450.5C877.0 452.3 880.9 459.3 883.0 462.2C885.1 465.1 887.2 467.9 889.6 470.0C892.0 472.1 896.4 474.9 898.7 475.9C901.0 476.9 903.1 476.8 905.2 476.5C907.3 476.2 911.0 474.6 912.6 474.0C914.2 473.4 913.9 474.0 915.7 472.6C917.5 471.2 921.6 468.3 924.8 464.8C928.0 461.3 933.4 454.5 937.1 449.0C940.8 443.5 946.4 433.2 949.3 428.0C952.2 422.8 954.5 417.6 956.6 414.2C958.7 410.8 960.7 408.0 963.3 405.0C965.9 402.0 970.8 397.1 973.8 394.0C976.8 390.9 980.4 387.3 983.5 384.6C986.6 381.9 991.1 378.0 994.3 376.0C997.5 374.0 1001.5 372.3 1005.0 371.2C1008.5 370.1 1014.7 369.6 1017.9 368.4C1021.1 367.2 1023.6 365.4 1026.5 363.1C1029.4 360.9 1034.1 356.8 1037.3 353.4C1040.5 350.0 1044.8 344.1 1048.0 340.5C1051.2 336.9 1055.6 331.7 1058.8 329.7C1062.0 327.7 1066.6 327.4 1069.5 326.9C1072.4 326.4 1075.5 325.8 1078.1 326.1C1080.7 326.4 1084.1 327.5 1086.7 328.7C1089.3 329.9 1092.7 332.1 1095.3 334.0C1097.9 335.9 1101.6 339.2 1103.9 341.6C1106.2 344.0 1108.8 348.3 1110.4 350.2C1112.0 352.1 1113.4 354.0 1114.7 354.0C1116.0 354.0 1117.4 352.6 1119.0 350.2C1120.6 347.8 1123.2 341.5 1125.4 338.3C1127.7 335.1 1131.1 331.4 1134.0 328.7C1136.9 326.0 1141.6 321.8 1144.8 320.0C1148.0 318.2 1152.9 317.9 1155.5 316.8C1158.1 315.7 1160.1 315.2 1162.0 312.5C1163.9 309.8 1166.2 304.2 1168.4 298.6C1170.7 293.0 1175.1 280.4 1177.0 274.9C1178.9 269.4 1180.0 265.8 1181.3 262.0C1182.6 258.2 1183.8 253.3 1186.0 249.7C1188.2 246.1 1192.6 242.4 1196.0 237.7C1199.4 233.0 1205.0 224.7 1208.8 218.6C1212.6 212.5 1217.8 202.4 1221.6 197.3C1225.4 192.2 1229.9 187.4 1234.4 184.5C1238.9 181.6 1247.4 179.3 1251.5 178.1C1255.6 176.9 1258.8 176.9 1262.0 176.5C1265.2 176.1 1269.3 175.2 1272.9 175.1C1276.5 175.0 1282.4 175.9 1286.3 176.0C1290.2 176.1 1295.0 175.7 1299.2 175.5C1303.4 175.3 1310.4 174.7 1314.3 174.8C1318.2 174.9 1322.1 176.3 1325.0 176.0C1327.9 175.7 1331.3 173.4 1333.6 172.7C1335.9 172.0 1338.2 170.9 1340.1 171.2C1342.0 171.5 1344.2 173.8 1346.5 174.8C1348.8 175.8 1352.2 176.8 1355.1 177.6C1358.0 178.4 1362.7 180.6 1365.9 180.4C1369.1 180.2 1373.7 176.0 1376.6 176.1C1379.5 176.2 1382.3 179.6 1385.2 180.9C1388.1 182.2 1392.5 183.9 1396.1 184.7C1399.7 185.5 1405.8 185.5 1409.0 186.5C1412.2 187.5 1415.3 190.6 1417.5 191.2C1419.7 191.8 1421.7 189.9 1423.9 190.5C1426.2 191.1 1429.6 194.5 1432.5 195.5C1435.4 196.5 1440.9 196.5 1443.3 197.0C1445.7 197.5 1446.8 198.4 1448.2 199.0C1449.6 199.6 1451.7 200.2 1452.9 201.3C1454.1 202.4 1455.3 207.7 1456.5 206.0C1457.7 204.3 1459.7 190.9 1461.2 190.0C1462.7 189.1 1465.2 198.3 1466.4 200.3C1467.6 202.3 1467.9 201.6 1469.1 203.4C1470.3 205.2 1472.3 210.2 1474.3 212.0C1476.2 213.8 1480.1 214.0 1482.1 215.6C1484.0 217.2 1485.3 220.7 1487.3 222.4C1489.2 224.1 1493.1 226.6 1495.1 227.0C1497.0 227.4 1498.3 223.0 1500.3 224.8C1502.2 226.6 1506.3 236.7 1508.1 239.1C1509.9 241.5 1510.8 241.9 1512.1 241.1C1513.4 240.3 1515.9 235.1 1516.6 234.0" fill="none" stroke="#bb0000" stroke-width="2.6" stroke-linejoin="round" clip-path="url(#clB)"/>
<path d="M875.9 477.0C879.1 477.7 893.5 481.6 900.0 482.0C906.5 482.4 918.3 481.9 925.0 480.0C931.7 478.1 943.3 472.3 950.0 468.0C956.7 463.7 968.3 452.7 975.0 448.0C981.7 443.3 992.7 435.9 1000.0 433.0C1007.3 430.1 1022.0 425.6 1030.0 426.0C1038.0 426.4 1052.0 431.4 1060.0 436.0C1068.0 440.6 1082.7 457.2 1090.0 460.8C1097.3 464.4 1108.2 463.6 1114.8 463.3C1121.4 463.0 1132.9 458.1 1139.5 458.3C1146.1 458.5 1159.9 464.5 1164.3 464.5C1168.7 464.5 1170.1 463.8 1172.7 458.0C1175.3 452.2 1180.9 429.1 1184.1 421.2C1187.3 413.3 1193.5 404.4 1196.5 398.9C1199.5 393.4 1204.8 385.5 1206.4 380.0C1208.0 374.5 1207.0 363.0 1208.7 357.5C1210.4 352.0 1217.3 342.2 1219.3 338.5C1221.3 334.8 1220.7 334.5 1223.5 330.0C1226.3 325.5 1236.2 310.1 1240.0 305.0C1243.8 299.9 1249.1 296.0 1252.0 292.0C1254.9 288.0 1259.3 281.0 1262.0 275.0C1264.7 269.0 1268.0 254.1 1272.0 247.0C1276.0 239.9 1286.0 228.2 1292.0 222.0C1298.0 215.8 1311.5 205.7 1317.3 200.8C1323.1 195.9 1331.0 188.4 1335.5 185.1C1340.0 181.8 1348.2 178.5 1351.1 176.0C1354.0 173.5 1352.7 167.9 1357.0 166.4C1361.3 164.9 1376.1 165.4 1383.0 165.1C1389.9 164.8 1402.1 163.1 1409.1 163.8C1416.1 164.5 1428.9 168.2 1435.2 170.3C1441.5 172.4 1449.1 176.1 1456.0 179.4C1462.9 182.7 1481.4 192.3 1487.3 195.1C1493.2 197.9 1496.4 197.2 1500.3 200.3C1504.2 203.4 1514.4 216.1 1516.6 218.5 L1516.6 333.0C1515.7 333.4 1511.9 337.4 1509.9 336.2C1507.9 335.0 1503.0 324.3 1501.3 324.0C1499.6 323.7 1498.9 332.8 1497.0 334.0C1495.1 335.2 1490.2 332.9 1487.3 333.0C1484.4 333.1 1478.9 334.8 1475.5 334.5C1472.1 334.2 1463.9 329.8 1461.5 331.0C1459.1 332.2 1458.2 343.0 1457.2 343.7C1456.2 344.4 1455.9 337.7 1454.0 336.0C1452.1 334.3 1446.2 332.3 1443.3 331.0C1440.4 329.7 1435.4 327.3 1432.5 326.0C1429.6 324.7 1424.7 322.0 1421.8 321.1C1418.9 320.2 1413.9 319.0 1411.0 319.0C1408.1 319.0 1404.0 320.3 1400.3 321.1C1396.6 321.9 1387.3 324.0 1383.0 325.1C1378.7 326.2 1371.5 328.8 1368.0 329.7C1364.5 330.6 1359.9 330.9 1357.0 331.6C1354.1 332.3 1350.8 333.2 1346.5 335.1C1342.2 337.0 1328.5 343.9 1325.0 345.9C1321.5 347.9 1322.3 348.6 1320.0 350.1C1317.7 351.6 1312.5 354.5 1308.1 357.5C1303.7 360.5 1292.6 367.5 1287.0 372.3C1281.4 377.1 1271.5 388.5 1265.8 393.5C1260.1 398.5 1249.1 405.2 1244.2 409.5C1239.3 413.8 1231.5 423.4 1228.7 426.1C1225.9 428.8 1225.9 426.0 1223.5 429.5C1221.1 433.0 1214.6 446.8 1211.0 452.0C1207.4 457.2 1200.1 462.7 1196.5 468.2C1192.9 473.7 1187.4 487.4 1184.1 493.0C1180.8 498.6 1174.3 507.5 1171.7 510.3C1169.1 513.1 1168.6 514.0 1164.3 514.0C1160.0 514.0 1146.1 510.5 1139.5 510.3C1132.9 510.1 1120.8 512.8 1114.8 512.8C1108.8 512.8 1099.9 511.7 1094.3 510.0C1088.7 508.3 1078.3 502.4 1072.5 500.2C1066.7 498.0 1056.4 494.9 1050.6 493.7C1044.8 492.5 1034.6 491.6 1028.8 491.5C1023.0 491.4 1012.8 491.7 1007.0 492.6C1001.2 493.5 990.9 496.1 985.1 498.0C979.3 499.9 969.1 504.5 963.3 506.8C957.5 509.1 947.3 514.0 941.5 515.5C935.7 517.0 925.5 517.9 919.7 517.7C913.9 517.5 903.6 514.9 897.8 514.0C892.0 513.1 878.8 511.4 875.9 511.0 Z" fill="rgb(212,223,237)" fill-opacity="0.6" stroke="none" clip-path="url(#clB)"/>
<path d="M875.9 485.0C877.4 485.9 882.8 489.3 886.0 491.0C889.2 492.7 893.8 495.2 897.2 496.5C900.6 497.8 904.9 498.9 908.6 499.5C912.3 500.1 917.9 500.8 921.6 500.8C925.3 500.8 930.0 500.4 933.0 499.7C936.0 499.0 939.1 496.7 941.5 495.9C943.9 495.1 946.9 495.0 949.3 494.3C951.7 493.6 955.3 492.3 957.4 491.1C959.5 489.9 961.3 487.4 963.3 486.0C965.3 484.6 968.6 482.7 970.5 481.5C972.4 480.3 972.8 480.1 976.0 478.0C979.2 475.9 987.1 470.2 991.7 467.5C996.4 464.8 1003.1 461.4 1007.0 459.8C1010.9 458.2 1014.6 457.1 1017.9 456.6C1021.2 456.1 1025.5 456.4 1028.8 456.6C1032.1 456.8 1036.4 457.1 1039.7 457.7C1043.0 458.3 1047.3 459.8 1050.6 460.9C1053.9 462.0 1058.3 463.7 1061.6 465.3C1064.9 466.9 1069.2 469.6 1072.5 471.9C1075.8 474.2 1080.8 478.4 1083.4 480.6C1086.0 482.8 1088.4 485.4 1090.0 486.5C1091.6 487.6 1091.4 487.4 1094.3 488.2C1097.2 489.0 1105.4 491.7 1109.6 492.0C1113.8 492.3 1118.1 491.8 1122.2 490.5C1126.3 489.2 1133.4 483.9 1137.1 483.1C1140.8 482.3 1143.7 483.8 1147.0 485.1C1150.3 486.4 1156.3 490.6 1159.3 491.7C1162.3 492.8 1164.9 493.2 1166.8 492.7C1168.7 492.2 1170.1 490.6 1171.7 488.5C1173.3 486.4 1175.7 481.5 1177.2 478.4C1178.7 475.2 1180.2 471.5 1181.6 467.5C1183.0 463.5 1185.2 456.4 1186.6 452.0C1188.0 447.6 1189.6 442.4 1191.0 438.0C1192.4 433.6 1193.7 428.6 1195.9 422.9C1198.1 417.2 1202.5 407.2 1205.7 400.1C1208.9 393.0 1213.7 382.4 1217.1 375.6C1220.5 368.8 1224.6 360.1 1228.5 354.5C1232.4 348.9 1239.8 341.9 1243.2 338.2C1246.6 334.5 1248.1 333.0 1251.3 330.0C1254.5 327.0 1259.9 322.3 1264.8 317.9C1269.7 313.5 1278.4 305.3 1284.2 300.7C1290.0 296.1 1297.8 291.7 1303.5 287.5C1309.2 283.3 1318.5 276.2 1322.5 273.0C1326.5 269.8 1326.8 268.4 1330.3 266.0C1333.8 263.6 1341.9 258.5 1345.9 256.8C1349.9 255.1 1353.4 255.8 1357.0 254.7C1360.6 253.6 1366.5 251.1 1370.0 249.5C1373.5 247.9 1376.6 244.6 1380.5 243.8C1384.4 243.0 1392.4 244.6 1396.1 244.3C1399.8 244.0 1401.3 241.7 1405.2 241.7C1409.1 241.7 1417.6 242.4 1422.1 244.3C1426.6 246.2 1430.9 251.6 1435.2 254.7C1439.5 257.8 1447.7 263.4 1450.8 265.1C1453.9 266.8 1454.2 267.0 1456.0 266.0C1457.8 265.0 1460.9 258.7 1462.5 258.6C1464.1 258.5 1463.9 263.4 1466.4 265.1C1469.0 266.8 1476.0 269.2 1479.5 269.8C1483.0 270.4 1486.8 270.2 1489.9 269.1C1493.0 268.0 1497.6 262.5 1500.3 262.5C1503.0 262.5 1505.7 268.0 1508.1 269.1C1510.5 270.2 1515.3 269.9 1516.6 270.0" fill="none" stroke="#1f4c9c" stroke-width="2.5" stroke-linecap="round" stroke-dasharray="9.5 16.1" stroke-linejoin="round" clip-path="url(#clB)"/>
<path d="M875.9 472.0C877.8 472.8 886.1 476.7 890.0 478.0C893.9 479.3 900.7 481.5 905.0 482.0C909.3 482.5 917.9 483.2 922.6 482.0C927.3 480.8 936.1 475.9 940.0 473.0C943.9 470.1 949.3 463.6 952.0 460.0C954.7 456.4 957.1 451.5 960.0 446.0C962.9 440.5 970.9 424.2 974.0 419.0C977.1 413.8 980.5 409.7 983.0 407.0C985.5 404.3 988.4 401.2 992.5 399.0C996.6 396.8 1008.0 392.0 1013.5 390.3C1019.0 388.6 1028.9 386.5 1034.0 386.2C1039.1 385.9 1047.8 387.2 1051.6 388.2C1055.4 389.2 1058.8 390.7 1062.2 393.5C1065.6 396.3 1073.3 404.7 1077.0 409.0C1080.7 413.3 1086.6 422.8 1090.0 426.0C1093.4 429.2 1099.1 431.8 1102.4 433.0C1105.7 434.2 1111.5 435.6 1114.8 434.8C1118.1 434.0 1123.9 428.8 1127.2 427.3C1130.5 425.8 1135.9 423.6 1139.5 423.6C1143.1 423.6 1151.1 427.3 1154.4 427.3C1157.7 427.3 1162.1 426.3 1164.3 423.6C1166.5 420.9 1169.2 411.4 1171.0 407.0C1172.8 402.6 1175.8 396.0 1178.0 390.3C1180.2 384.6 1185.2 371.6 1187.8 364.2C1190.4 356.8 1195.4 341.4 1197.6 334.9C1199.8 328.4 1201.9 321.0 1204.1 315.4C1206.3 309.8 1211.8 298.0 1213.9 292.6C1216.0 287.2 1218.4 282.0 1220.0 275.0C1221.6 268.0 1224.5 247.1 1226.1 240.0C1227.7 232.9 1230.3 226.1 1232.0 222.0C1233.7 217.9 1236.4 212.5 1239.1 209.0C1241.8 205.5 1247.6 198.8 1252.1 195.6C1256.6 192.4 1267.4 187.7 1273.0 185.1C1278.6 182.5 1288.9 178.8 1293.8 176.0C1298.7 173.2 1305.2 167.1 1309.4 164.3C1313.6 161.5 1320.9 156.9 1325.1 155.2C1329.3 153.5 1336.5 152.1 1340.7 151.3C1344.9 150.5 1351.3 149.9 1356.4 149.0C1361.5 148.1 1374.6 144.1 1379.2 144.3C1383.8 144.5 1386.9 149.6 1390.9 150.8C1394.9 152.0 1403.2 152.2 1409.1 153.4C1415.0 154.6 1428.9 158.0 1435.2 159.9C1441.5 161.8 1452.5 168.2 1456.0 167.7C1459.5 167.2 1459.8 155.7 1461.2 156.0C1462.6 156.3 1462.9 166.8 1466.4 170.3C1469.9 173.8 1483.1 179.7 1487.3 182.0C1491.5 184.3 1494.9 184.9 1497.7 187.3C1500.5 189.7 1505.6 196.5 1508.1 200.3C1510.6 204.1 1515.5 213.8 1516.6 215.9 L1516.6 326.5C1515.1 326.3 1508.9 326.1 1505.0 325.0C1501.1 323.9 1492.9 319.9 1487.3 318.0C1481.7 316.1 1466.8 312.4 1463.0 310.5C1459.2 308.6 1460.1 303.6 1459.0 303.5C1457.9 303.4 1458.2 309.4 1455.0 309.5C1451.8 309.6 1441.3 305.3 1435.2 304.0C1429.1 302.7 1416.0 300.7 1409.0 300.0C1402.0 299.3 1388.5 298.5 1383.0 298.5C1377.5 298.5 1372.9 299.5 1368.0 300.0C1363.1 300.5 1352.2 301.6 1346.5 302.5C1340.8 303.4 1330.7 305.2 1325.0 306.5C1319.3 307.8 1309.2 310.8 1303.5 312.5C1297.8 314.2 1287.7 317.4 1282.0 319.0C1276.3 320.6 1264.6 322.7 1260.5 324.4C1256.4 326.1 1253.7 329.7 1251.0 332.1C1248.3 334.5 1243.5 338.8 1240.4 342.7C1237.3 346.6 1231.4 354.9 1227.7 361.7C1224.0 368.5 1216.4 387.2 1212.9 393.5C1209.4 399.8 1203.8 404.6 1201.5 408.8C1199.2 413.0 1198.3 420.2 1196.0 425.2C1193.7 430.2 1186.5 441.1 1184.1 446.0C1181.7 450.9 1179.9 457.7 1178.0 462.0C1176.1 466.3 1172.5 475.2 1170.0 478.0C1167.5 480.8 1163.4 482.9 1159.3 483.1C1155.2 483.3 1145.4 479.7 1139.5 479.4C1133.6 479.1 1121.4 481.1 1114.8 480.6C1108.2 480.1 1097.0 478.4 1090.0 475.6C1083.0 472.8 1069.0 462.1 1062.3 459.6C1055.6 457.1 1046.2 457.3 1040.0 457.0C1033.8 456.7 1022.4 456.5 1015.7 457.3C1009.0 458.1 996.2 460.8 990.0 463.0C983.8 465.2 975.2 469.7 969.2 474.0C963.2 478.3 951.2 490.1 945.0 495.0C938.8 499.9 928.6 508.2 922.6 511.0C916.6 513.8 906.2 515.7 900.0 516.0C893.8 516.3 879.1 513.4 875.9 513.0 Z" fill="rgb(220,231,203)" fill-opacity="0.6" stroke="none" clip-path="url(#clB)"/>
<path d="M875.9 481.5C877.6 483.1 884.0 489.8 887.0 492.2C890.0 494.6 892.9 496.0 896.0 497.4C899.1 498.8 904.3 500.8 907.8 501.3C911.3 501.8 916.5 501.3 919.6 500.7C922.7 500.1 925.5 499.0 928.7 497.4C931.9 495.8 937.8 492.6 941.1 490.3C944.4 488.0 948.0 484.8 950.9 482.1C953.8 479.4 957.8 475.7 960.7 472.3C963.6 468.9 968.5 462.3 970.5 459.3C972.5 456.3 972.0 455.0 974.2 452.0C976.4 449.0 981.8 442.2 985.1 439.1C988.4 436.0 992.8 433.3 996.1 431.5C999.4 429.7 1003.7 428.3 1007.0 427.1C1010.3 425.9 1014.6 424.6 1017.9 423.8C1021.2 423.0 1025.5 421.9 1028.8 421.6C1032.1 421.3 1036.4 421.3 1039.7 421.6C1043.0 421.9 1047.3 422.8 1050.6 423.8C1053.9 424.8 1058.3 426.2 1061.6 428.2C1064.9 430.2 1069.2 434.0 1072.5 436.9C1075.8 439.8 1080.8 445.3 1083.4 447.8C1086.0 450.3 1087.2 451.7 1090.0 453.3C1092.8 454.9 1098.7 457.1 1102.4 458.3C1106.1 459.5 1111.1 461.9 1114.8 461.5C1118.5 461.1 1123.5 457.3 1127.2 455.8C1130.9 454.3 1135.8 451.6 1139.5 451.4C1143.2 451.2 1148.9 453.9 1151.9 454.6C1154.9 455.3 1157.1 456.9 1159.3 455.8C1161.5 454.7 1164.5 451.3 1166.6 447.3C1168.7 443.3 1171.1 434.8 1173.1 429.4C1175.1 424.0 1177.7 416.9 1179.7 411.5C1181.7 406.1 1184.2 398.5 1186.2 393.6C1188.2 388.7 1190.8 383.3 1192.7 378.9C1194.7 374.5 1197.5 368.4 1199.2 364.2C1200.9 360.0 1202.6 355.1 1204.1 351.2C1205.6 347.3 1207.5 342.1 1209.0 338.2C1210.5 334.3 1212.4 328.8 1213.9 325.1C1215.4 321.4 1217.2 317.1 1218.7 313.7C1220.2 310.3 1221.9 305.7 1223.6 302.3C1225.3 298.9 1227.9 294.3 1230.1 290.9C1232.3 287.5 1235.6 282.7 1238.3 279.5C1241.0 276.3 1245.6 272.0 1248.1 269.8C1250.6 267.6 1252.8 266.2 1254.9 264.9C1257.0 263.6 1259.3 262.3 1262.0 261.0C1264.7 259.7 1268.6 258.1 1273.0 256.5C1277.4 254.8 1285.7 251.9 1291.2 250.0C1296.7 248.1 1303.9 246.0 1309.4 243.5C1314.9 241.0 1323.0 236.4 1327.7 233.5C1332.4 230.6 1337.2 225.4 1340.7 224.2C1344.2 223.0 1348.2 225.3 1351.1 225.5C1354.0 225.7 1357.2 226.1 1360.0 225.8C1362.8 225.5 1366.7 224.4 1370.0 223.5C1373.3 222.6 1377.9 219.5 1381.8 219.5C1385.7 219.5 1392.0 222.8 1396.1 223.5C1400.2 224.2 1405.2 223.4 1409.1 224.0C1413.0 224.6 1418.2 225.9 1422.1 227.4C1426.0 228.9 1431.3 232.3 1435.2 233.9C1439.1 235.5 1444.9 236.6 1448.2 237.8C1451.5 239.0 1455.3 242.7 1457.3 241.7C1459.2 240.7 1459.8 231.7 1461.2 231.3C1462.6 230.9 1464.4 236.6 1466.4 239.1C1468.4 241.6 1471.2 245.5 1474.3 248.2C1477.4 250.9 1483.8 255.4 1487.3 257.3C1490.8 259.2 1495.8 261.2 1497.7 261.2C1499.7 261.2 1499.1 256.7 1500.3 257.3C1501.5 257.9 1503.5 263.1 1505.5 265.1C1507.5 267.1 1511.7 270.0 1513.4 270.4C1515.1 270.8 1516.1 268.4 1516.6 268.0" fill="none" stroke="#388c0a" stroke-width="3" stroke-linecap="round" stroke-dasharray="3 9" stroke-linejoin="round" clip-path="url(#clB)"/>
<path d="M915.94 535.40V530.40M915.94 18.10V23.10M955.99 535.40V525.40M955.99 18.10V28.10M996.03 535.40V530.40M996.03 18.10V23.10M1036.08 535.40V525.40M1036.08 18.10V28.10M1076.12 535.40V530.40M1076.12 18.10V23.10M1116.16 535.40V525.40M1116.16 18.10V28.10M1156.21 535.40V530.40M1156.21 18.10V23.10M1196.25 535.40V525.40M1196.25 18.10V28.10M1236.29 535.40V530.40M1236.29 18.10V23.10M1276.34 535.40V525.40M1276.34 18.10V28.10M1316.38 535.40V530.40M1316.38 18.10V23.10M1356.42 535.40V525.40M1356.42 18.10V28.10M1396.47 535.40V530.40M1396.47 18.10V23.10M1436.51 535.40V525.40M1436.51 18.10V28.10M1476.56 535.40V530.40M1476.56 18.10V23.10M875.90 509.53H880.90M1516.60 509.53H1511.60M875.90 483.67H885.90M1516.60 483.67H1506.60M875.90 457.81H880.90M1516.60 457.81H1511.60M875.90 431.94H885.90M1516.60 431.94H1506.60M875.90 406.07H880.90M1516.60 406.07H1511.60M875.90 380.21H885.90M1516.60 380.21H1506.60M875.90 354.34H880.90M1516.60 354.34H1511.60M875.90 328.48H885.90M1516.60 328.48H1506.60M875.90 302.62H880.90M1516.60 302.62H1511.60M875.90 276.75H885.90M1516.60 276.75H1506.60M875.90 250.88H880.90M1516.60 250.88H1511.60M875.90 225.02H885.90M1516.60 225.02H1506.60M875.90 199.15H880.90M1516.60 199.15H1511.60M875.90 173.29H885.90M1516.60 173.29H1506.60M875.90 147.42H880.90M1516.60 147.42H1511.60M875.90 121.56H885.90M1516.60 121.56H1506.60M875.90 95.70H880.90M1516.60 95.70H1511.60M875.90 69.83H885.90M1516.60 69.83H1506.60M875.90 43.97H880.90M1516.60 43.97H1511.60" stroke="#000" stroke-width="1.8" fill="none"/>
<rect x="875.90" y="18.10" width="640.70" height="517.30" stroke="#000" stroke-width="1.8" fill="none"/>
<g font-size="22"><text x="865.0" y="541.70" text-anchor="end">0</text><text x="865.0" y="489.97" text-anchor="end">5</text><text x="865.0" y="438.24" text-anchor="end">10</text><text x="865.0" y="386.51" text-anchor="end">15</text><text x="865.0" y="334.78" text-anchor="end">20</text><text x="865.0" y="283.05" text-anchor="end">25</text><text x="865.0" y="231.32" text-anchor="end">30</text><text x="865.0" y="179.59" text-anchor="end">35</text><text x="865.0" y="127.86" text-anchor="end">40</text><text x="865.0" y="76.13" text-anchor="end">45</text><text x="865.0" y="24.40" text-anchor="end">50</text><text x="875.90" y="562.9" text-anchor="middle">400</text><text x="955.99" y="562.9" text-anchor="middle">450</text><text x="1036.08" y="562.9" text-anchor="middle">500</text><text x="1116.16" y="562.9" text-anchor="middle">550</text><text x="1196.25" y="562.9" text-anchor="middle">600</text><text x="1276.34" y="562.9" text-anchor="middle">650</text><text x="1356.42" y="562.9" text-anchor="middle">700</text><text x="1436.51" y="562.9" text-anchor="middle">750</text><text x="1516.60" y="562.9" text-anchor="middle">800</text></g>
<rect x="902.2" y="39" width="194.3" height="96.7" stroke="#000" stroke-width="1.8" fill="#fff"/>
<path d="M919.2 54.2H981.4" stroke="#bb0000" stroke-width="2.8" fill="none"/>
<path d="M920.7 87.3H979.9" stroke="#1f4c9c" stroke-width="3" stroke-linecap="round" stroke-dasharray="10 16.5" fill="none"/>
<path d="M920.7 120.5H980.2" stroke="#388c0a" stroke-width="3" stroke-linecap="round" stroke-dasharray="3.5 8.3" fill="none"/>
<g font-size="27"><text x="1000.5" y="63.7">Chicken</text><text x="1014.3" y="96">beef</text><text x="1014.3" y="128.4">duck</text></g>
<text x="2" y="29.6" font-size="40" font-weight="bold">A</text>
<text x="783" y="29.6" font-size="40" font-weight="bold">B</text>
<text x="286" y="596.4" font-size="34">Wavelength (nm)</text>
<text x="1075.4" y="604.4" font-size="34">Wavelength (nm)</text>
<text transform="translate(49.3 412.8) rotate(-90)" font-size="34.3">Reflectance (A.U.)</text>
<text transform="translate(832 421.5) rotate(-90)" font-size="34.3">Reflectance (A.U.)</text>
</svg>
</body></html>
